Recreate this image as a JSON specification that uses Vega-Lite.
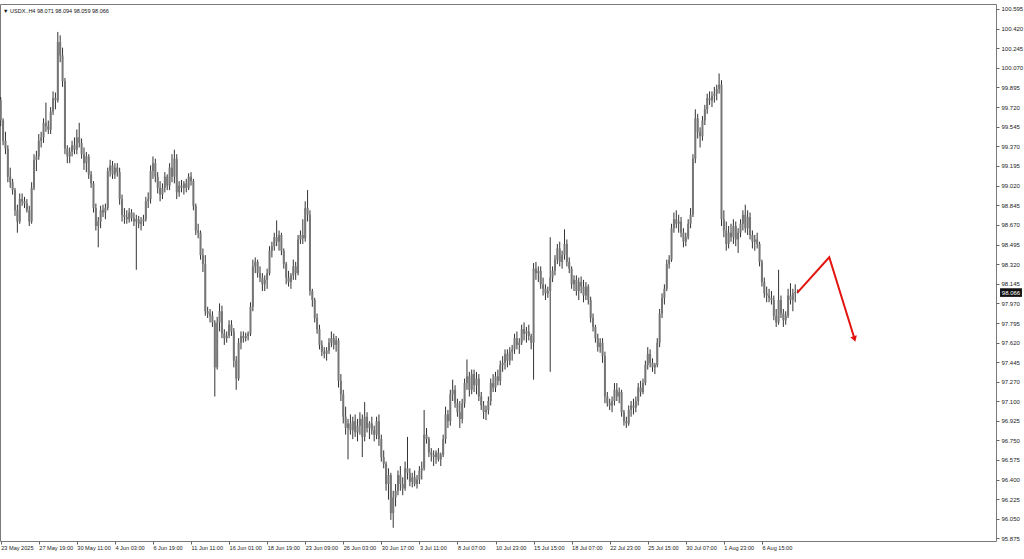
{
"$schema":"https://vega.github.io/schema/vega-lite/v6.json",
"autosize":{"type":"none"},
"width":996,"height":537,
"padding":{"top":4,"left":0,"right":28,"bottom":18},
"background":"white",
"config":{"view":{"stroke":"#7a7a7a","strokeWidth":1},"font":"Liberation Sans","axis":{"labelOverlap":false,"labelBound":false,"labelFlush":false,"grid":false,"domain":false},"scale":{"continuousPadding":0}},
"datasets":{
"bars":[
{"i":0,"o":99.78,"h":99.81,"l":99.55,"c":99.6},{"i":1,"o":99.6,"h":99.62,"l":99.38,"c":99.42},{"i":2,"o":99.42,"h":99.5,"l":99.3,"c":99.35},{"i":3,"o":99.35,"h":99.38,"l":99.05,"c":99.1},{"i":4,"o":99.1,"h":99.18,"l":99.0,"c":99.05},{"i":5,"o":99.05,"h":99.08,"l":98.94,"c":98.98},{"i":6,"o":98.98,"h":99.0,"l":98.75,"c":98.8},{"i":7,"o":98.8,"h":98.85,"l":98.6,"c":98.7},{"i":8,"o":98.7,"h":98.95,"l":98.68,"c":98.9},{"i":9,"o":98.9,"h":98.95,"l":98.84,"c":98.88},
{"i":10,"o":98.88,"h":98.92,"l":98.82,"c":98.86},{"i":11,"o":98.86,"h":98.9,"l":98.78,"c":98.8},{"i":12,"o":98.8,"h":98.84,"l":98.66,"c":98.7},{"i":13,"o":98.7,"h":99.05,"l":98.68,"c":99.0},{"i":14,"o":99.0,"h":99.3,"l":98.98,"c":99.25},{"i":15,"o":99.25,"h":99.33,"l":99.15,"c":99.28},{"i":16,"o":99.28,"h":99.48,"l":99.25,"c":99.42},{"i":17,"o":99.42,"h":99.5,"l":99.36,"c":99.45},{"i":18,"o":99.45,"h":99.62,"l":99.4,"c":99.58},{"i":19,"o":99.58,"h":99.76,"l":99.5,"c":99.55},
{"i":20,"o":99.55,"h":99.6,"l":99.48,"c":99.52},{"i":21,"o":99.52,"h":99.72,"l":99.48,"c":99.68},{"i":22,"o":99.68,"h":99.86,"l":99.65,"c":99.8},{"i":23,"o":99.8,"h":99.85,"l":99.7,"c":99.78},{"i":24,"o":99.78,"h":100.39,"l":99.76,"c":100.3},{"i":25,"o":100.3,"h":100.36,"l":100.12,"c":100.18},{"i":26,"o":100.18,"h":100.25,"l":99.9,"c":99.95},{"i":27,"o":99.95,"h":99.98,"l":99.3,"c":99.35},{"i":28,"o":99.35,"h":99.38,"l":99.22,"c":99.28},{"i":29,"o":99.28,"h":99.36,"l":99.22,"c":99.32},
{"i":30,"o":99.32,"h":99.42,"l":99.28,"c":99.38},{"i":31,"o":99.38,"h":99.45,"l":99.3,"c":99.34},{"i":32,"o":99.34,"h":99.52,"l":99.3,"c":99.45},{"i":33,"o":99.45,"h":99.58,"l":99.36,"c":99.4},{"i":34,"o":99.4,"h":99.44,"l":99.26,"c":99.3},{"i":35,"o":99.3,"h":99.36,"l":99.16,"c":99.22},{"i":36,"o":99.22,"h":99.32,"l":99.14,"c":99.28},{"i":37,"o":99.28,"h":99.3,"l":99.08,"c":99.12},{"i":38,"o":99.12,"h":99.15,"l":99.0,"c":99.04},{"i":39,"o":99.04,"h":99.06,"l":98.78,"c":98.82},
{"i":40,"o":98.82,"h":98.86,"l":98.62,"c":98.66},{"i":41,"o":98.66,"h":98.74,"l":98.47,"c":98.7},{"i":42,"o":98.7,"h":98.84,"l":98.64,"c":98.8},{"i":43,"o":98.8,"h":98.85,"l":98.74,"c":98.78},{"i":44,"o":98.78,"h":98.86,"l":98.72,"c":98.82},{"i":45,"o":98.82,"h":99.18,"l":98.8,"c":99.15},{"i":46,"o":99.15,"h":99.25,"l":99.1,"c":99.2},{"i":47,"o":99.2,"h":99.24,"l":99.08,"c":99.12},{"i":48,"o":99.12,"h":99.22,"l":99.08,"c":99.18},{"i":49,"o":99.18,"h":99.22,"l":99.1,"c":99.14},
{"i":50,"o":99.14,"h":99.18,"l":98.85,"c":98.9},{"i":51,"o":98.9,"h":98.94,"l":98.7,"c":98.76},{"i":52,"o":98.76,"h":98.82,"l":98.68,"c":98.74},{"i":53,"o":98.74,"h":98.8,"l":98.68,"c":98.72},{"i":54,"o":98.72,"h":98.82,"l":98.69,"c":98.78},{"i":55,"o":98.78,"h":98.81,"l":98.7,"c":98.73},{"i":56,"o":98.73,"h":98.78,"l":98.66,"c":98.7},{"i":57,"o":98.7,"h":98.76,"l":98.27,"c":98.72},{"i":58,"o":98.72,"h":98.75,"l":98.64,"c":98.68},{"i":59,"o":98.68,"h":98.74,"l":98.62,"c":98.7},
{"i":60,"o":98.7,"h":98.76,"l":98.66,"c":98.72},{"i":61,"o":98.72,"h":98.92,"l":98.7,"c":98.88},{"i":62,"o":98.88,"h":98.96,"l":98.82,"c":98.9},{"i":63,"o":98.9,"h":99.2,"l":98.86,"c":99.15},{"i":64,"o":99.15,"h":99.28,"l":99.08,"c":99.22},{"i":65,"o":99.22,"h":99.26,"l":99.05,"c":99.1},{"i":66,"o":99.1,"h":99.14,"l":98.95,"c":99.0},{"i":67,"o":99.0,"h":99.06,"l":98.88,"c":98.94},{"i":68,"o":98.94,"h":99.04,"l":98.9,"c":99.0},{"i":69,"o":99.0,"h":99.14,"l":98.96,"c":99.1},
{"i":70,"o":99.1,"h":99.12,"l":98.98,"c":99.02},{"i":71,"o":99.02,"h":99.22,"l":98.98,"c":99.18},{"i":72,"o":99.18,"h":99.3,"l":99.05,"c":99.1},{"i":73,"o":99.1,"h":99.34,"l":99.04,"c":99.26},{"i":74,"o":99.26,"h":99.3,"l":98.9,"c":98.96},{"i":75,"o":98.96,"h":99.06,"l":98.92,"c":99.02},{"i":76,"o":99.02,"h":99.07,"l":98.96,"c":99.0},{"i":77,"o":99.0,"h":99.06,"l":98.94,"c":99.04},{"i":78,"o":99.04,"h":99.08,"l":98.96,"c":99.0},{"i":79,"o":99.0,"h":99.13,"l":98.98,"c":99.1},
{"i":80,"o":99.1,"h":99.14,"l":99.02,"c":99.06},{"i":81,"o":99.06,"h":99.08,"l":98.8,"c":98.84},{"i":82,"o":98.84,"h":98.86,"l":98.58,"c":98.62},{"i":83,"o":98.62,"h":98.68,"l":98.55,"c":98.6},{"i":84,"o":98.6,"h":98.62,"l":98.36,"c":98.4},{"i":85,"o":98.4,"h":98.46,"l":98.25,"c":98.32},{"i":86,"o":98.32,"h":98.4,"l":97.86,"c":97.9},{"i":87,"o":97.9,"h":97.94,"l":97.84,"c":97.88},{"i":88,"o":97.88,"h":97.92,"l":97.8,"c":97.86},{"i":89,"o":97.86,"h":97.9,"l":97.76,"c":97.8},
{"i":90,"o":97.8,"h":97.82,"l":97.14,"c":97.4},{"i":91,"o":97.4,"h":97.85,"l":97.38,"c":97.8},{"i":92,"o":97.8,"h":97.97,"l":97.72,"c":97.9},{"i":93,"o":97.9,"h":97.95,"l":97.66,"c":97.7},{"i":94,"o":97.7,"h":97.74,"l":97.6,"c":97.66},{"i":95,"o":97.66,"h":97.72,"l":97.62,"c":97.68},{"i":96,"o":97.68,"h":97.82,"l":97.66,"c":97.78},{"i":97,"o":97.78,"h":97.82,"l":97.68,"c":97.72},{"i":98,"o":97.72,"h":97.75,"l":97.4,"c":97.46},{"i":99,"o":97.46,"h":97.5,"l":97.2,"c":97.3},
{"i":100,"o":97.3,"h":97.66,"l":97.28,"c":97.62},{"i":101,"o":97.62,"h":97.72,"l":97.56,"c":97.68},{"i":102,"o":97.68,"h":97.72,"l":97.62,"c":97.66},{"i":103,"o":97.66,"h":97.71,"l":97.63,"c":97.68},{"i":104,"o":97.68,"h":97.72,"l":97.64,"c":97.7},{"i":105,"o":97.7,"h":97.98,"l":97.68,"c":97.94},{"i":106,"o":97.94,"h":98.36,"l":97.9,"c":98.3},{"i":107,"o":98.3,"h":98.38,"l":98.24,"c":98.34},{"i":108,"o":98.34,"h":98.36,"l":98.2,"c":98.24},{"i":109,"o":98.24,"h":98.3,"l":98.16,"c":98.2},
{"i":110,"o":98.2,"h":98.24,"l":98.08,"c":98.14},{"i":111,"o":98.14,"h":98.22,"l":98.08,"c":98.18},{"i":112,"o":98.18,"h":98.28,"l":98.1,"c":98.24},{"i":113,"o":98.24,"h":98.48,"l":98.22,"c":98.44},{"i":114,"o":98.44,"h":98.52,"l":98.38,"c":98.48},{"i":115,"o":98.48,"h":98.6,"l":98.44,"c":98.56},{"i":116,"o":98.56,"h":98.71,"l":98.48,"c":98.52},{"i":117,"o":98.52,"h":98.62,"l":98.44,"c":98.58},{"i":118,"o":98.58,"h":98.6,"l":98.4,"c":98.44},{"i":119,"o":98.44,"h":98.46,"l":98.28,"c":98.32},
{"i":120,"o":98.32,"h":98.34,"l":98.14,"c":98.2},{"i":121,"o":98.2,"h":98.26,"l":98.12,"c":98.16},{"i":122,"o":98.16,"h":98.24,"l":98.1,"c":98.22},{"i":123,"o":98.22,"h":98.36,"l":98.18,"c":98.3},{"i":124,"o":98.3,"h":98.34,"l":98.18,"c":98.24},{"i":125,"o":98.24,"h":98.58,"l":98.22,"c":98.54},{"i":126,"o":98.54,"h":98.62,"l":98.5,"c":98.58},{"i":127,"o":98.58,"h":98.72,"l":98.5,"c":98.55},{"i":128,"o":98.55,"h":98.88,"l":98.52,"c":98.82},{"i":129,"o":98.82,"h":98.98,"l":98.7,"c":98.76},
{"i":130,"o":98.76,"h":98.8,"l":98.04,"c":98.08},{"i":131,"o":98.08,"h":98.1,"l":97.94,"c":98.0},{"i":132,"o":98.0,"h":98.02,"l":97.8,"c":97.84},{"i":133,"o":97.84,"h":97.88,"l":97.7,"c":97.74},{"i":134,"o":97.74,"h":97.78,"l":97.56,"c":97.6},{"i":135,"o":97.6,"h":97.64,"l":97.5,"c":97.54},{"i":136,"o":97.54,"h":97.58,"l":97.48,"c":97.52},{"i":137,"o":97.52,"h":97.58,"l":97.46,"c":97.55},{"i":138,"o":97.55,"h":97.66,"l":97.52,"c":97.62},{"i":139,"o":97.62,"h":97.72,"l":97.58,"c":97.66},
{"i":140,"o":97.66,"h":97.7,"l":97.56,"c":97.6},{"i":141,"o":97.6,"h":97.68,"l":97.54,"c":97.64},{"i":142,"o":97.64,"h":97.66,"l":97.22,"c":97.28},{"i":143,"o":97.28,"h":97.34,"l":97.1,"c":97.16},{"i":144,"o":97.16,"h":97.2,"l":96.9,"c":96.96},{"i":145,"o":96.96,"h":97.05,"l":96.8,"c":96.86},{"i":146,"o":96.86,"h":96.94,"l":96.58,"c":96.9},{"i":147,"o":96.9,"h":96.98,"l":96.8,"c":96.84},{"i":148,"o":96.84,"h":96.96,"l":96.76,"c":96.92},{"i":149,"o":96.92,"h":96.98,"l":96.78,"c":96.82},
{"i":150,"o":96.82,"h":96.94,"l":96.74,"c":96.88},{"i":151,"o":96.88,"h":97.0,"l":96.8,"c":96.94},{"i":152,"o":96.94,"h":96.98,"l":96.6,"c":96.78},{"i":153,"o":96.78,"h":97.09,"l":96.74,"c":96.96},{"i":154,"o":96.96,"h":97.0,"l":96.82,"c":96.86},{"i":155,"o":96.86,"h":96.92,"l":96.76,"c":96.9},{"i":156,"o":96.9,"h":96.96,"l":96.8,"c":96.84},{"i":157,"o":96.84,"h":96.88,"l":96.74,"c":96.8},{"i":158,"o":96.8,"h":96.96,"l":96.76,"c":96.92},{"i":159,"o":96.92,"h":96.98,"l":96.7,"c":96.76},
{"i":160,"o":96.76,"h":96.8,"l":96.56,"c":96.6},{"i":161,"o":96.6,"h":96.66,"l":96.5,"c":96.54},{"i":162,"o":96.54,"h":96.56,"l":96.3,"c":96.36},{"i":163,"o":96.36,"h":96.5,"l":96.22,"c":96.44},{"i":164,"o":96.44,"h":96.46,"l":96.04,"c":96.1},{"i":165,"o":96.1,"h":96.3,"l":95.97,"c":96.24},{"i":166,"o":96.24,"h":96.36,"l":96.16,"c":96.3},{"i":167,"o":96.3,"h":96.48,"l":96.26,"c":96.44},{"i":168,"o":96.44,"h":96.52,"l":96.3,"c":96.36},{"i":169,"o":96.36,"h":96.42,"l":96.26,"c":96.32},
{"i":170,"o":96.32,"h":96.56,"l":96.3,"c":96.5},{"i":171,"o":96.5,"h":96.78,"l":96.4,"c":96.46},{"i":172,"o":96.46,"h":96.5,"l":96.34,"c":96.38},{"i":173,"o":96.38,"h":96.46,"l":96.33,"c":96.42},{"i":174,"o":96.42,"h":96.48,"l":96.34,"c":96.36},{"i":175,"o":96.36,"h":96.44,"l":96.32,"c":96.4},{"i":176,"o":96.4,"h":96.52,"l":96.36,"c":96.48},{"i":177,"o":96.48,"h":96.56,"l":96.4,"c":96.5},{"i":178,"o":96.5,"h":97.02,"l":96.48,"c":96.8},{"i":179,"o":96.8,"h":96.86,"l":96.72,"c":96.76},
{"i":180,"o":96.76,"h":96.78,"l":96.6,"c":96.64},{"i":181,"o":96.64,"h":96.68,"l":96.56,"c":96.62},{"i":182,"o":96.62,"h":96.66,"l":96.52,"c":96.6},{"i":183,"o":96.6,"h":96.66,"l":96.54,"c":96.64},{"i":184,"o":96.64,"h":96.68,"l":96.56,"c":96.58},{"i":185,"o":96.58,"h":96.64,"l":96.52,"c":96.62},{"i":186,"o":96.62,"h":96.8,"l":96.6,"c":96.76},{"i":187,"o":96.76,"h":97.05,"l":96.72,"c":96.98},{"i":188,"o":96.98,"h":97.02,"l":96.86,"c":96.92},{"i":189,"o":96.92,"h":97.2,"l":96.88,"c":97.16},
{"i":190,"o":97.16,"h":97.29,"l":97.1,"c":97.2},{"i":191,"o":97.2,"h":97.24,"l":97.04,"c":97.08},{"i":192,"o":97.08,"h":97.12,"l":96.96,"c":97.0},{"i":193,"o":97.0,"h":97.1,"l":96.86,"c":96.94},{"i":194,"o":96.94,"h":97.12,"l":96.9,"c":97.08},{"i":195,"o":97.08,"h":97.3,"l":97.04,"c":97.26},{"i":196,"o":97.26,"h":97.47,"l":97.2,"c":97.32},{"i":197,"o":97.32,"h":97.36,"l":97.14,"c":97.2},{"i":198,"o":97.2,"h":97.38,"l":97.16,"c":97.34},{"i":199,"o":97.34,"h":97.38,"l":97.18,"c":97.24},
{"i":200,"o":97.24,"h":97.36,"l":97.16,"c":97.3},{"i":201,"o":97.3,"h":97.34,"l":97.1,"c":97.14},{"i":202,"o":97.14,"h":97.18,"l":97.02,"c":97.06},{"i":203,"o":97.06,"h":97.1,"l":96.94,"c":97.0},{"i":204,"o":97.0,"h":97.06,"l":96.93,"c":97.02},{"i":205,"o":97.02,"h":97.14,"l":96.98,"c":97.1},{"i":206,"o":97.1,"h":97.3,"l":97.06,"c":97.26},{"i":207,"o":97.26,"h":97.34,"l":97.18,"c":97.22},{"i":208,"o":97.22,"h":97.36,"l":97.18,"c":97.32},{"i":209,"o":97.32,"h":97.38,"l":97.24,"c":97.28},
{"i":210,"o":97.28,"h":97.46,"l":97.24,"c":97.42},{"i":211,"o":97.42,"h":97.5,"l":97.36,"c":97.44},{"i":212,"o":97.44,"h":97.56,"l":97.38,"c":97.52},{"i":213,"o":97.52,"h":97.56,"l":97.4,"c":97.46},{"i":214,"o":97.46,"h":97.58,"l":97.42,"c":97.54},{"i":215,"o":97.54,"h":97.6,"l":97.46,"c":97.56},{"i":216,"o":97.56,"h":97.7,"l":97.52,"c":97.66},{"i":217,"o":97.66,"h":97.72,"l":97.56,"c":97.6},{"i":218,"o":97.6,"h":97.66,"l":97.52,"c":97.62},{"i":219,"o":97.62,"h":97.78,"l":97.6,"c":97.74},
{"i":220,"o":97.74,"h":97.8,"l":97.64,"c":97.7},{"i":221,"o":97.7,"h":97.76,"l":97.62,"c":97.72},{"i":222,"o":97.72,"h":97.78,"l":97.64,"c":97.68},{"i":223,"o":97.68,"h":97.7,"l":97.56,"c":97.62},{"i":224,"o":97.62,"h":98.33,"l":97.29,"c":98.28},{"i":225,"o":98.28,"h":98.34,"l":98.18,"c":98.24},{"i":226,"o":98.24,"h":98.3,"l":98.16,"c":98.26},{"i":227,"o":98.26,"h":98.3,"l":98.1,"c":98.14},{"i":228,"o":98.14,"h":98.2,"l":98.04,"c":98.1},{"i":229,"o":98.1,"h":98.14,"l":98.0,"c":98.06},
{"i":230,"o":98.06,"h":98.12,"l":98.02,"c":98.08},{"i":231,"o":98.08,"h":98.56,"l":97.36,"c":98.2},{"i":232,"o":98.2,"h":98.3,"l":98.16,"c":98.26},{"i":233,"o":98.26,"h":98.4,"l":98.22,"c":98.36},{"i":234,"o":98.36,"h":98.5,"l":98.32,"c":98.46},{"i":235,"o":98.46,"h":98.52,"l":98.3,"c":98.34},{"i":236,"o":98.34,"h":98.44,"l":98.28,"c":98.4},{"i":237,"o":98.4,"h":98.63,"l":98.36,"c":98.5},{"i":238,"o":98.5,"h":98.54,"l":98.3,"c":98.34},{"i":239,"o":98.34,"h":98.38,"l":98.24,"c":98.28},
{"i":240,"o":98.28,"h":98.3,"l":98.1,"c":98.14},{"i":241,"o":98.14,"h":98.22,"l":98.08,"c":98.18},{"i":242,"o":98.18,"h":98.22,"l":98.04,"c":98.08},{"i":243,"o":98.08,"h":98.2,"l":98.0,"c":98.16},{"i":244,"o":98.16,"h":98.21,"l":98.06,"c":98.12},{"i":245,"o":98.12,"h":98.18,"l":97.98,"c":98.04},{"i":246,"o":98.04,"h":98.16,"l":98.0,"c":98.12},{"i":247,"o":98.12,"h":98.14,"l":97.96,"c":98.0},{"i":248,"o":98.0,"h":98.03,"l":97.8,"c":97.84},{"i":249,"o":97.84,"h":97.88,"l":97.72,"c":97.76},
{"i":250,"o":97.76,"h":97.78,"l":97.62,"c":97.66},{"i":251,"o":97.66,"h":97.7,"l":97.54,"c":97.58},{"i":252,"o":97.58,"h":97.66,"l":97.53,"c":97.62},{"i":253,"o":97.62,"h":97.66,"l":97.44,"c":97.5},{"i":254,"o":97.5,"h":97.54,"l":97.08,"c":97.14},{"i":255,"o":97.14,"h":97.18,"l":97.05,"c":97.08},{"i":256,"o":97.08,"h":97.12,"l":97.02,"c":97.06},{"i":257,"o":97.06,"h":97.14,"l":97.0,"c":97.1},{"i":258,"o":97.1,"h":97.26,"l":97.06,"c":97.2},{"i":259,"o":97.2,"h":97.26,"l":97.1,"c":97.14},
{"i":260,"o":97.14,"h":97.22,"l":97.08,"c":97.18},{"i":261,"o":97.18,"h":97.2,"l":96.96,"c":97.0},{"i":262,"o":97.0,"h":97.02,"l":96.88,"c":96.92},{"i":263,"o":96.92,"h":96.96,"l":96.86,"c":96.9},{"i":264,"o":96.9,"h":97.06,"l":96.88,"c":97.02},{"i":265,"o":97.02,"h":97.1,"l":96.96,"c":97.06},{"i":266,"o":97.06,"h":97.12,"l":96.98,"c":97.04},{"i":267,"o":97.04,"h":97.14,"l":97.0,"c":97.1},{"i":268,"o":97.1,"h":97.26,"l":97.06,"c":97.22},{"i":269,"o":97.22,"h":97.28,"l":97.14,"c":97.18},
{"i":270,"o":97.18,"h":97.3,"l":97.16,"c":97.26},{"i":271,"o":97.26,"h":97.46,"l":97.24,"c":97.42},{"i":272,"o":97.42,"h":97.58,"l":97.38,"c":97.52},{"i":273,"o":97.52,"h":97.56,"l":97.4,"c":97.44},{"i":274,"o":97.44,"h":97.48,"l":97.36,"c":97.4},{"i":275,"o":97.4,"h":97.44,"l":97.34,"c":97.42},{"i":276,"o":97.42,"h":97.66,"l":97.4,"c":97.62},{"i":277,"o":97.62,"h":97.92,"l":97.58,"c":97.88},{"i":278,"o":97.88,"h":98.06,"l":97.84,"c":98.02},{"i":279,"o":98.02,"h":98.14,"l":97.96,"c":98.1},
{"i":280,"o":98.1,"h":98.36,"l":98.08,"c":98.32},{"i":281,"o":98.32,"h":98.4,"l":98.28,"c":98.36},{"i":282,"o":98.36,"h":98.68,"l":98.34,"c":98.64},{"i":283,"o":98.64,"h":98.78,"l":98.6,"c":98.72},{"i":284,"o":98.72,"h":98.8,"l":98.64,"c":98.68},{"i":285,"o":98.68,"h":98.76,"l":98.6,"c":98.7},{"i":286,"o":98.7,"h":98.74,"l":98.56,"c":98.6},{"i":287,"o":98.6,"h":98.64,"l":98.47,"c":98.52},{"i":288,"o":98.52,"h":98.6,"l":98.48,"c":98.56},{"i":289,"o":98.56,"h":98.72,"l":98.54,"c":98.68},
{"i":290,"o":98.68,"h":98.82,"l":98.64,"c":98.76},{"i":291,"o":98.76,"h":99.3,"l":98.74,"c":99.26},{"i":292,"o":99.26,"h":99.7,"l":99.22,"c":99.62},{"i":293,"o":99.62,"h":99.66,"l":99.44,"c":99.5},{"i":294,"o":99.5,"h":99.54,"l":99.36,"c":99.46},{"i":295,"o":99.46,"h":99.64,"l":99.42,"c":99.6},{"i":296,"o":99.6,"h":99.74,"l":99.56,"c":99.7},{"i":297,"o":99.7,"h":99.84,"l":99.66,"c":99.8},{"i":298,"o":99.8,"h":99.86,"l":99.74,"c":99.78},{"i":299,"o":99.78,"h":99.86,"l":99.72,"c":99.82},
{"i":300,"o":99.82,"h":99.9,"l":99.76,"c":99.84},{"i":301,"o":99.84,"h":99.92,"l":99.78,"c":99.88},{"i":302,"o":99.88,"h":100.02,"l":99.84,"c":99.92},{"i":303,"o":99.92,"h":99.96,"l":98.66,"c":98.72},{"i":304,"o":98.72,"h":98.8,"l":98.56,"c":98.62},{"i":305,"o":98.62,"h":98.7,"l":98.44,"c":98.5},{"i":306,"o":98.5,"h":98.66,"l":98.46,"c":98.6},{"i":307,"o":98.6,"h":98.68,"l":98.52,"c":98.56},{"i":308,"o":98.56,"h":98.72,"l":98.5,"c":98.66},{"i":309,"o":98.66,"h":98.7,"l":98.48,"c":98.54},
{"i":310,"o":98.54,"h":98.64,"l":98.42,"c":98.6},{"i":311,"o":98.6,"h":98.72,"l":98.56,"c":98.68},{"i":312,"o":98.68,"h":98.8,"l":98.62,"c":98.76},{"i":313,"o":98.76,"h":98.85,"l":98.6,"c":98.64},{"i":314,"o":98.64,"h":98.8,"l":98.58,"c":98.74},{"i":315,"o":98.74,"h":98.78,"l":98.54,"c":98.58},{"i":316,"o":98.58,"h":98.62,"l":98.46,"c":98.52},{"i":317,"o":98.52,"h":98.58,"l":98.44,"c":98.54},{"i":318,"o":98.54,"h":98.6,"l":98.46,"c":98.5},{"i":319,"o":98.5,"h":98.52,"l":98.3,"c":98.34},
{"i":320,"o":98.34,"h":98.36,"l":98.12,"c":98.16},{"i":321,"o":98.16,"h":98.2,"l":98.02,"c":98.06},{"i":322,"o":98.06,"h":98.12,"l":97.98,"c":98.04},{"i":323,"o":98.04,"h":98.1,"l":97.98,"c":98.02},{"i":324,"o":98.02,"h":98.08,"l":97.96,"c":98.0},{"i":325,"o":98.0,"h":98.04,"l":97.82,"c":97.86},{"i":326,"o":97.86,"h":97.92,"l":97.76,"c":97.8},{"i":327,"o":97.8,"h":98.27,"l":97.78,"c":98.0},{"i":328,"o":98.0,"h":98.04,"l":97.84,"c":97.88},{"i":329,"o":97.88,"h":97.92,"l":97.76,"c":97.82},
{"i":330,"o":97.82,"h":97.9,"l":97.78,"c":97.86},{"i":331,"o":97.86,"h":98.1,"l":97.84,"c":98.04},{"i":332,"o":98.04,"h":98.15,"l":97.96,"c":98.0},{"i":333,"o":98.0,"h":98.1,"l":97.9,"c":98.06},{"i":334,"o":98.06,"h":98.14,"l":97.98,"c":98.07},{"i":335,"o":98.071,"h":98.094,"l":98.059,"c":98.066}
],
"arrow":[{"i":334.9,"p":98.066},{"i":348.3,"p":98.381},{"i":358.7,"p":97.67}]
},
"layer":[
{"data":{"name":"bars"},"mark":{"type":"rule","color":"#333333","strokeWidth":1},
 "encoding":{
  "x":{"field":"i","type":"quantitative","scale":{"domain":[-0.3,418.4],"nice":false,"zero":false,"padding":0},
   "axis":{"title":null,"orient":"bottom","tickCount":100,"values":[0,16,32,48,64,80,96,112,128,144,160,176,192,208,224,240,256,272,288,304,320],
    "labelExpr":"['23 May 2025','27 May 19:00','30 May 11:00','4 Jun 03:00','6 Jun 19:00','11 Jun 11:00','16 Jun 01:00','18 Jun 19:00','23 Jun 09:00','26 Jun 03:00','30 Jun 17:00','3 Jul 11:00','8 Jul 07:00','10 Jul 23:00','15 Jul 15:00','18 Jul 07:00','22 Jul 23:00','25 Jul 15:00','30 Jul 07:00','1 Aug 23:00','6 Aug 15:00'][round(datum.value/16)]",
    "domain":false,"grid":false,"ticks":true,"tickSize":3,"tickColor":"#666","labelAlign":"left","labelBaseline":"top","labelPadding":1,"labelDx":1,
    "labelFontSize":5.6,"labelColor":"#222","labelOverlap":false,"labelBound":false,"labelFlush":false,"labelFont":"Liberation Sans"}},
  "y":{"field":"l","type":"quantitative","scale":{"domain":[95.852,100.639],"nice":false,"zero":false},
   "axis":{"title":null,"orient":"right","tickCount":100,"values":[95.875,96.05,96.225,96.4,96.575,96.75,96.925,97.1,97.27,97.445,97.62,97.795,97.97,98.145,98.32,98.495,98.67,98.845,99.02,99.195,99.37,99.545,99.72,99.895,100.07,100.245,100.42,100.595],
    "format":".3f","domain":false,"grid":false,"tickSize":3,"tickColor":"#666","labelPadding":2,"labelFontSize":6,"labelColor":"#222","labelOverlap":false,"labelBound":false,"labelFlush":false,"labelFont":"Liberation Sans"}},
  "y2":{"field":"h"}}},
{"data":{"name":"bars"},"mark":{"type":"bar","color":"#767676","width":2},
 "encoding":{"x":{"field":"i","type":"quantitative"},"y":{"field":"o","type":"quantitative"},"y2":{"field":"c"}}},
{"data":{"name":"arrow"},"mark":{"type":"line","color":"#e3140f","strokeWidth":2},
 "encoding":{"x":{"field":"i","type":"quantitative"},"y":{"field":"p","type":"quantitative"}}},
{"data":{"values":[{"i":358.9,"p":97.653}]},"mark":{"type":"point","shape":"triangle-down","filled":true,"color":"#e3140f","size":45,"angle":343,"opacity":1},
 "encoding":{"x":{"field":"i","type":"quantitative"},"y":{"field":"p","type":"quantitative"}}},
{"data":{"values":[{}]},"mark":{"type":"rect","color":"#111"},
 "encoding":{"x":{"datum":420.1},"x2":{"datum":429.3},"y":{"datum":98.105},"y2":{"datum":98.028}}},
{"data":{"values":[{}]},"mark":{"type":"text","color":"white","fontSize":6,"align":"center","baseline":"middle","font":"Liberation Sans"},
 "encoding":{"x":{"datum":424.7},"y":{"datum":98.066},"text":{"value":"98.066"}}},
{"data":{"values":[{}]},"mark":{"type":"text","color":"#111","fontSize":5.5,"align":"left","baseline":"middle","font":"Liberation Sans"},
 "encoding":{"x":{"datum":1.0},"y":{"datum":100.577},"text":{"value":"▼ USDX..H4  98.071 98.094 98.059 98.066"}}}
]
}
